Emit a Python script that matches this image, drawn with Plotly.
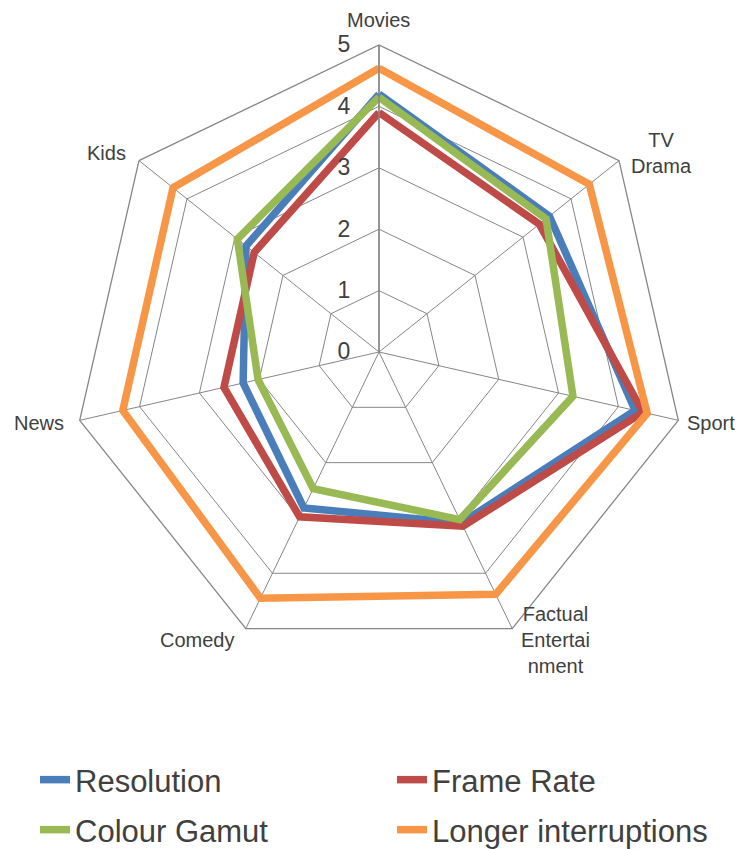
import plotly.graph_objects as go

categories = ["Movies", "TV Drama", "Sport", "Factual Entertainment", "Comedy", "News", "Kids"]
category_labels = ["Movies", "TV<br>Drama", "Sport", "Factual<br>Entertai<br>nment", "Comedy", "News", "Kids"]
resolution = [4.20, 3.55, 4.28, 3.09, 2.82, 2.27, 2.77]
frame_rate = [3.90, 3.34, 4.41, 3.15, 2.98, 2.59, 2.60]
colour_gamut = [4.15, 3.48, 3.24, 3.03, 2.47, 2.02, 2.95]
longer_interruptions = [4.62, 4.38, 4.48, 4.38, 4.45, 4.28, 4.29]
radial_ticks = [0, 1, 2, 3, 4, 5]

series = [
    ("Resolution", resolution, "#4A7EBB", "legend"),
    ("Frame Rate", frame_rate, "#BE4B48", "legend2"),
    ("Colour Gamut", colour_gamut, "#98B954", "legend3"),
    ("Longer interruptions", longer_interruptions, "#F79646", "legend4"),
]

fig = go.Figure()
for name, vals, color, lg in series:
    fig.add_trace(go.Scatterpolar(
        r=vals + [vals[0]],
        theta=categories + [categories[0]],
        mode="lines",
        name=name,
        line=dict(color=color, width=7.5),
        legend=lg,
        showlegend=True,
    ))

OFF = 8  # default page body margin shifts the figure by 8px
W, H = 745, 849
cx, cy, R = 379 - OFF, 352 - OFF, 307
grid_col = "#868686"
txt_col = "#404040"
font_family = "Liberation Sans, Arial, sans-serif"

# layout: screen-pixel centres of the category labels (placement only)
label_centres = [(378, 20), (661, 153), (711, 423), (555, 640), (197, 640), (39, 423), (106, 153)]

annotations = []
for text, (px, py) in zip(category_labels, label_centres):
    annotations.append(dict(
        text=text, xref="paper", yref="paper",
        x=(px - OFF) / W, y=(H - (py - OFF)) / H,
        xanchor="center", yanchor="middle", align="center",
        showarrow=False, font=dict(size=20, color=txt_col, family=font_family),
    ))

def leg(xpx, ypx):
    return dict(
        orientation="h", x=(xpx - OFF) / W, y=(H - (ypx - OFF)) / H,
        yanchor="middle", xanchor="left",
        font=dict(size=31, color=txt_col), bgcolor="rgba(0,0,0,0)",
    )

fig.update_layout(
    width=W, height=H,
    showlegend=True,
    margin=dict(l=0, r=0, t=0, b=0),
    paper_bgcolor="white",
    plot_bgcolor="white",
    font=dict(family=font_family, color=txt_col),
    annotations=annotations,
    polar=dict(
        domain=dict(x=[(cx - R) / W, (cx + R) / W],
                    y=[(H - cy - R) / H, (H - cy + R) / H]),
        gridshape="linear",
        bgcolor="white",
        radialaxis=dict(
            range=[0, 5],
            tickvals=radial_ticks,
            angle=90,
            side="counterclockwise",
            tickangle=90,
            showline=True,
            linecolor=grid_col,
            linewidth=1.5,
            gridcolor=grid_col,
            gridwidth=1.3,
            ticks="outside",
            ticklen=20,
            tickcolor="rgba(0,0,0,0)",
            tickfont=dict(size=23, color=txt_col),
        ),
        angularaxis=dict(
            rotation=90,
            direction="clockwise",
            showline=True,
            linecolor=grid_col,
            linewidth=1.3,
            gridcolor=grid_col,
            gridwidth=1.3,
            ticks="",
            showticklabels=False,
        ),
    ),
    legend=leg(35, 780),
    legend2=leg(392, 780),
    legend3=leg(35, 830),
    legend4=leg(392, 830),
)

fig.write_html("out.html", config={"displayModeBar": False})
